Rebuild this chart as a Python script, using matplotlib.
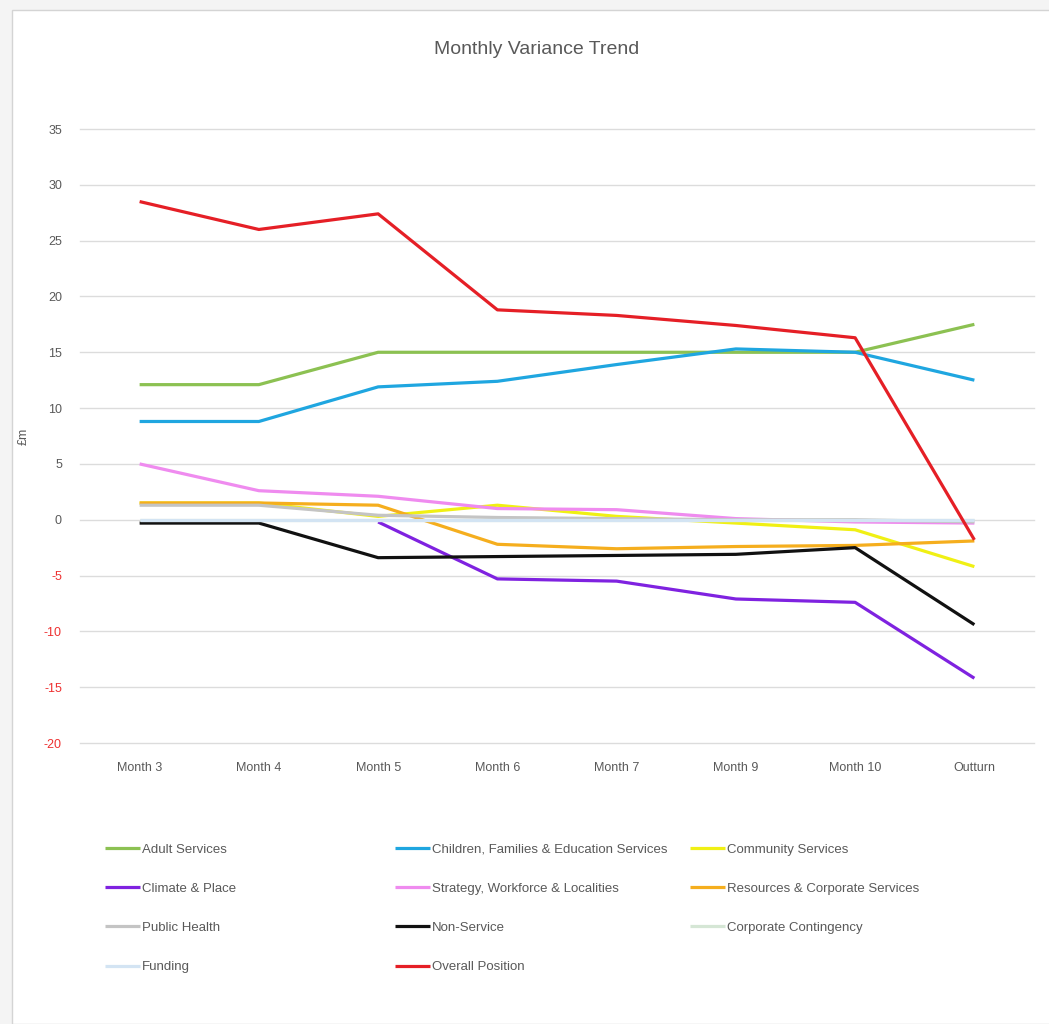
import matplotlib
matplotlib.use("Agg")
from matplotlib import pyplot as plt
from matplotlib.patches import Rectangle
import numpy as np

plt.rcParams["font.family"] = ["Liberation Sans", "DejaVu Sans"]
plt.rcParams["axes.unicode_minus"] = False

months = ["Month 3", "Month 4", "Month 5", "Month 6", "Month 7", "Month 9", "Month 10", "Outturn"]

adult_services = [12.1, 12.1, 15.0, 15.0, 15.0, 15.0, 15.0, 17.5]
children_services = [8.8, 8.8, 11.9, 12.4, 13.9, 15.3, 15.0, 12.5]
community_services = [1.5, 1.5, 0.3, 1.3, 0.3, -0.3, -0.9, -4.2]
climate_place = [np.nan, np.nan, -0.2, -5.3, -5.5, -7.1, -7.4, -14.2]
strategy_workforce = [5.0, 2.6, 2.1, 1.0, 0.9, 0.1, -0.2, -0.3]
resources_corporate = [1.5, 1.5, 1.3, -2.2, -2.6, -2.4, -2.3, -1.9]
public_health = [1.3, 1.3, 0.4, 0.2, 0.1, 0.0, 0.0, -0.2]
non_service = [-0.3, -0.3, -3.4, -3.3, -3.2, -3.1, -2.5, -9.4]
corporate_contingency = [0.0, 0.0, 0.0, 0.0, 0.0, 0.0, 0.0, 0.0]
funding = [0.0, 0.0, 0.0, 0.0, 0.0, 0.0, 0.0, 0.0]
overall_position = [28.5, 26.0, 27.4, 18.8, 18.3, 17.4, 16.3, -1.8]

series = [
    ("Adult Services", adult_services, "#8cc152"),
    ("Children, Families & Education Services", children_services, "#1fa6e0"),
    ("Community Services", community_services, "#f0f014"),
    ("Climate & Place", climate_place, "#7f22e0"),
    ("Strategy, Workforce & Localities", strategy_workforce, "#ef8bef"),
    ("Resources & Corporate Services", resources_corporate, "#f5ae1e"),
    ("Public Health", public_health, "#c4c4c4"),
    ("Non-Service", non_service, "#111111"),
    ("Corporate Contingency", corporate_contingency, "#d5e6d5"),
    ("Funding", funding, "#d3e4f3"),
    ("Overall Position", overall_position, "#e51f26"),
]

W, H = 1049, 1024
fig = plt.figure(figsize=(W / 100, H / 100), dpi=100)
fig.patch.set_facecolor("#f4f4f4")
fig.patches.append(Rectangle((12 / W, 0), 1, 1 - 10 / H, transform=fig.transFigure,
                             facecolor="white", edgecolor="#d4d4d4", lw=1, zorder=-5))

ax = fig.add_axes([80 / W, 1 - 743 / H, 954 / W, 614 / H])
ax.set_facecolor("none")
ax.set_zorder(2)

x = np.arange(len(months))
lines = []
for name, vals, color in series:
    (ln,) = ax.plot(x, vals, color=color, lw=2.3, label=name, solid_capstyle="butt")
    lines.append(ln)

ax.set_xlim(-0.5, len(months) - 0.5)
ax.set_ylim(-20, 35)
ax.set_yticks(range(-20, 36, 5))
ax.set_xticks(x)
ax.set_xticklabels(months)
ax.grid(axis="y", color="#dcdcdc", lw=1)
for gl in ax.get_ygridlines():
    gl.set_clip_on(False)
ax.set_axisbelow(True)
for s in ax.spines.values():
    s.set_visible(False)
ax.tick_params(length=0, labelsize=9, colors="#595959")
ax.tick_params(axis="x", pad=14)
ax.tick_params(axis="y", pad=13)
for lab in ax.get_yticklabels():
    if lab.get_text().startswith(("-", "\u2212")):
        lab.set_color("#ee3030")
ax.set_ylabel("£m", fontsize=9, color="#595959")
ax.yaxis.set_label_coords(-(80 - 30) / 954, (743 - 436) / 614)

fig.text(537 / W, 1 - 49 / H, "Monthly Variance Trend", ha="center", va="center",
         fontsize=14, color="#595959")

# three legend columns, placed where the original puts them
col_x = [100 / W, 390 / W, 685 / W]
for c in range(3):
    handles = lines[c::3]
    leg = fig.legend(handles=handles, labels=[h.get_label() for h in handles],
                     loc="upper left", bbox_to_anchor=(col_x[c], 1 - 838 / H),
                     frameon=False, fontsize=9.5, labelspacing=2.05,
                     handlelength=2.6, handletextpad=0.15, borderaxespad=0)
    for t in leg.get_texts():
        t.set_color("#595959")

fig.savefig("out.png", dpi=100, facecolor=fig.get_facecolor())
